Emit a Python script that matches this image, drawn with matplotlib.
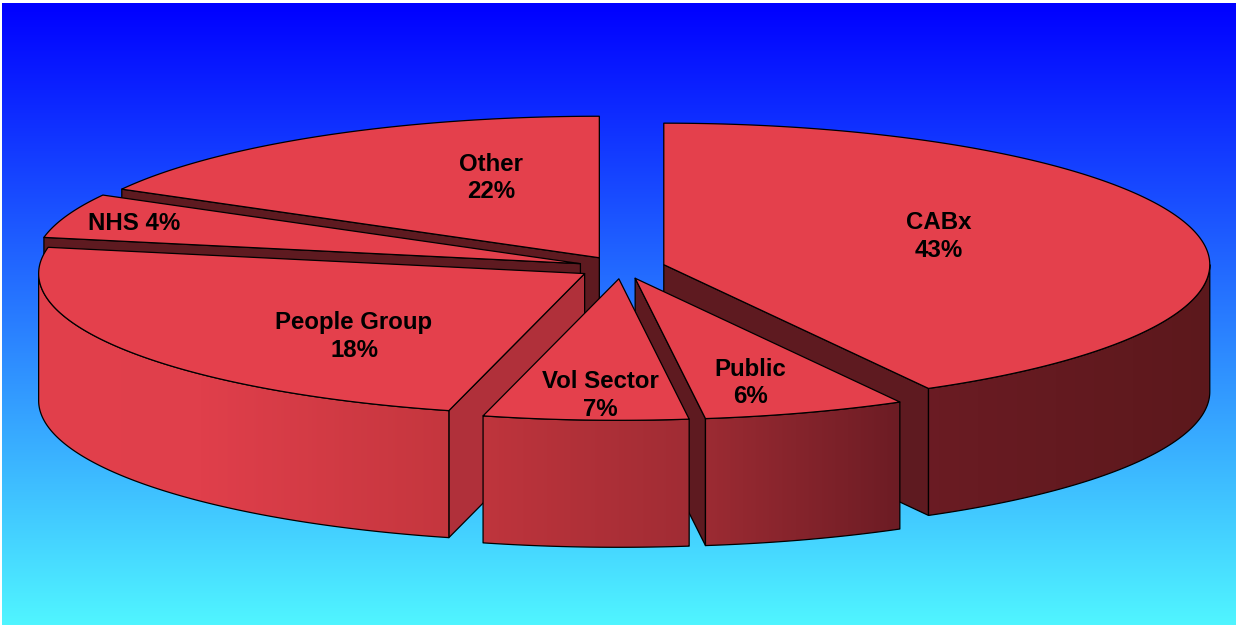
import numpy as np
import matplotlib
matplotlib.use("Agg")
import matplotlib.pyplot as plt
from matplotlib.patches import Polygon

categories = ["CABx", "Public", "Vol Sector", "People Group", "NHS", "Other"]
shares = [43, 6, 7, 18, 4, 22]
label_texts = ["CABx\n43%", "Public\n6%", "Vol Sector\n7%", "People Group\n18%", "NHS 4%", "Other\n22%"]

# Canvas and pie geometry, in pixels
W, H = 1236, 625
CX, CY, RX, RY, DEPTH, EXPLODE = 621.5, 267.5, 546, 141.5, 127, 0.08

# Angular distortion of the tilted view, as harmonic coefficients
VIEW_WARP = np.array([-21.062, -2.164, -8.242, -3.921, 4.502])


def view_angle(deg):
    """Map a share angle (clockwise from 12 o'clock) to its on-screen ellipse angle."""
    r = np.radians(deg)
    terms = np.array([np.sin(r), 1 - np.cos(r), np.sin(2 * r), 1 - np.cos(2 * r), np.sin(3 * r)])
    return deg + VIEW_WARP @ terms


fig = plt.figure(figsize=(W / 100, H / 100), dpi=100)
ax = fig.add_axes([0, 0, 1, 1])
ax.axis("off")

# Blue-to-cyan backdrop
bg = np.linspace(0, 1, 256)[:, None, None] * np.array([80, 245, 0]) / 255 + np.array([0, 0, 1.0])
ax.imshow(bg, extent=(2, W, H, 3), aspect="auto", zorder=0)

# Rim shading runs left to right across the whole pie
stop_x = [40, 200, 450, 690, 900, 1210]
stop_c = np.array([[226, 64, 76], [224, 63, 75], [196, 54, 62], [160, 44, 52], [108, 28, 36], [92, 24, 28]]) / 255
xs = np.arange(W)
wall_img = np.stack([np.interp(xs, stop_x, stop_c[:, i]) for i in range(3)], axis=-1)[None, :, :]

TOP = "#e4404c"
DARK = "#5e1a20"
LIT = "#b0303a"
EDGE = dict(edgecolor="black", linewidth=0.9, joinstyle="round")

cuts = np.cumsum([0] + shares) * 3.6
cut_shade = [DARK, DARK, DARK, LIT, DARK, DARK]
label_xy = [(939, 236.5), (750, 383), (600, 395.5), (354, 336.5), (134, 224), (491, 178)]
draw_order = [5, 4, 3, 0, 1, 2]  # back to front

for k, i in enumerate(draw_order):
    base = 10 * (k + 1)
    t0, t1 = view_angle(cuts[i]), view_angle(cuts[i + 1])
    tm = np.radians((t0 + t1) / 2)
    apex = np.array([CX + EXPLODE * RX * np.sin(tm), CY - EXPLODE * RY * np.cos(tm)])
    t = np.radians(np.linspace(t0, t1, 240))
    rim = np.column_stack([apex[0] + RX * np.sin(t), apex[1] - RY * np.cos(t)])
    down = np.array([0, DEPTH])

    # Cut faces, only where they turn toward the viewer
    faces = []
    if np.sin(np.radians(t0)) < -1e-6:
        faces.append(rim[0])
    if np.sin(np.radians(t1)) > 1e-6:
        faces.append(rim[-1])
    for end in faces:
        ax.add_patch(Polygon([apex, end, end + down, apex + down], closed=True,
                             facecolor=cut_shade[i], zorder=base, **EDGE))

    # Outer rim, front half of the ellipse only
    lo, hi = max(t0, 90), min(t1, 270)
    if lo < hi:
        s = np.radians(np.linspace(lo, hi, 240))
        arc = np.column_stack([apex[0] + RX * np.sin(s), apex[1] - RY * np.cos(s)])
        outline = np.vstack([arc, (arc + down)[::-1]])
        im = ax.imshow(wall_img, extent=(0, W, H, 0), aspect="auto", zorder=base + 1)
        im.set_clip_path(Polygon(outline, closed=True, transform=ax.transData))
        ax.add_patch(Polygon(outline, closed=True, facecolor="none", zorder=base + 2, **EDGE))

    # Top face
    ax.add_patch(Polygon(np.vstack([apex, rim]), closed=True, facecolor=TOP, zorder=base + 3, **EDGE))

for txt, (x, y) in zip(label_texts, label_xy):
    ax.text(x, y, txt, ha="center", va="center", family="Liberation Sans", weight="bold",
            fontsize=17.3, color="black", linespacing=1.27, zorder=100)

ax.set_xlim(0, W)
ax.set_ylim(H, 0)
fig.savefig("out.png", dpi=100, facecolor="white")
